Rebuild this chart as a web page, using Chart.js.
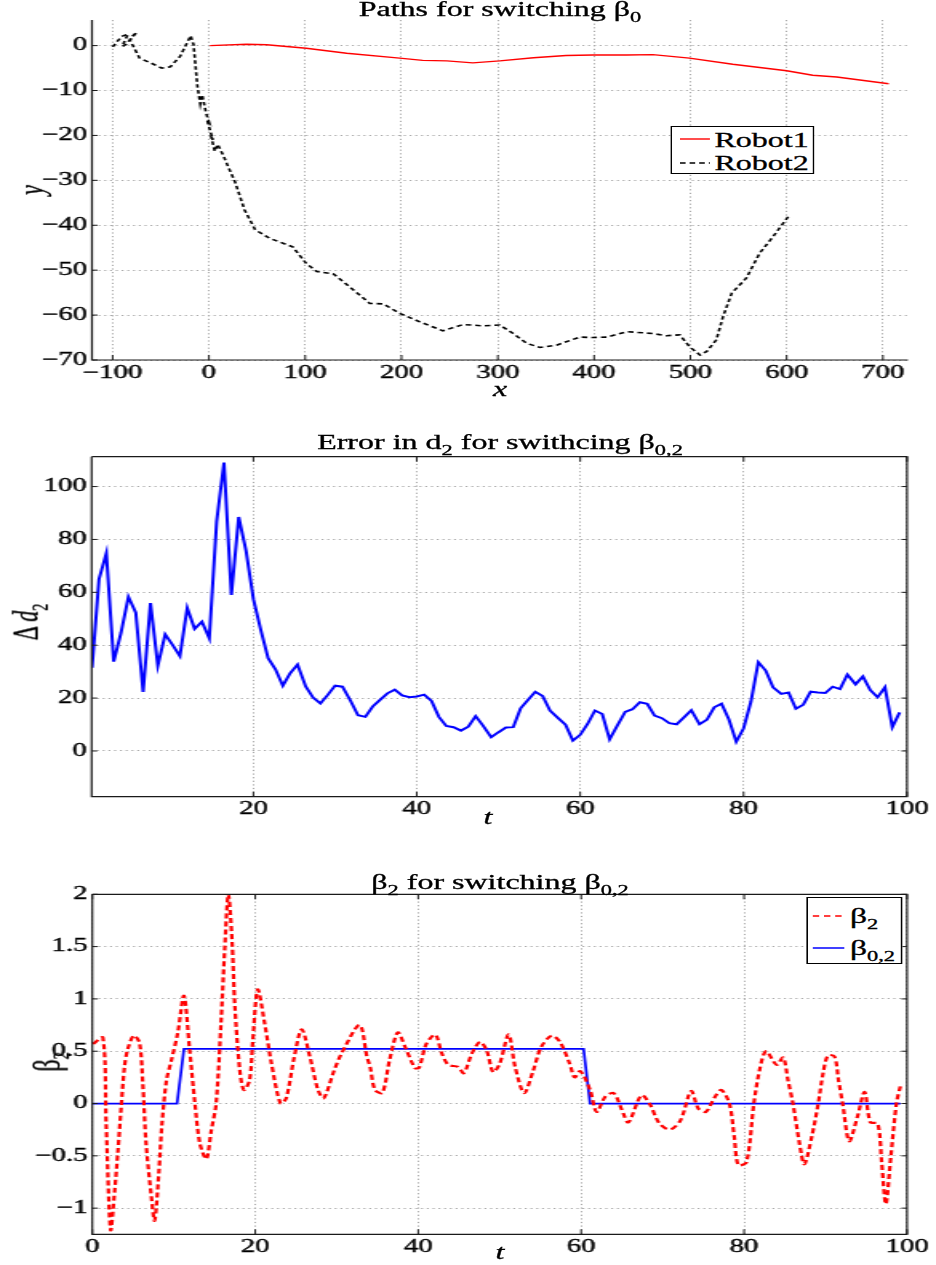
<!DOCTYPE html>
<html>
<head>
<meta charset="utf-8">
<script src="https://cdn.jsdelivr.net/npm/chart.js@4.4.1/dist/chart.umd.min.js"></script>
<style>
html, body { margin: 0; padding: 0; background: #fff; overflow: hidden; }
/* the source figure is stretched sideways, so draw at 585px wide and stretch by 1.6 */
#wrap { position: absolute; left: 0; top: 0; width: 585px; height: 1265px; transform: scaleX(1.6); transform-origin: 0 0;
  font-family: 'Liberation Serif', 'DejaVu Serif', serif; color: #000; -webkit-text-stroke: 0.3px #000; }
canvas { position: absolute; left: 0; }
.t { position: absolute; white-space: nowrap; font-size: 20px; line-height: 20px; transform: translateX(-50%); }
.s { font-size: 14px; position: relative; top: 6px; }
.yl { position: absolute; white-space: nowrap; font-size: 22px; line-height: 22px; transform: translate(-50%, -50%) rotate(-90deg); }
.lg { position: absolute; border: 1.2px solid #000; background: #fff; box-sizing: border-box; }
.lg svg { position: absolute; overflow: visible; }
.lg div { position: absolute; white-space: nowrap; font-size: 20px; line-height: 20px; }
</style>
</head>
<body>
<div id="wrap">
  <canvas id="paths" style="top:0"></canvas>
  <canvas id="error" style="top:420px"></canvas>
  <canvas id="beta" style="top:840px"></canvas>

  <div class="t" style="left:312.5px; top:-1px">Paths for switching β<span class="s">0</span></div>
  <div class="t" style="left:312.5px; top:379px"><i>x</i></div>
  <div class="yl" style="left:20px; top:190px"><i>y</i></div>

  <div class="t" style="left:312.5px; top:432px">Error in d<span class="s">2</span> for swithcing β<span class="s">0,2</span></div>
  <div class="t" style="left:305px; top:807px"><i>t</i></div>
  <div class="yl" style="left:18px; top:622px">Δ&thinsp;<i>d</i><span class="s">2</span></div>

  <div class="t" style="left:312.5px; top:872px">β<span class="s">2</span> for switching β<span class="s">0,2</span></div>
  <div class="t" style="left:312.5px; top:1242px"><i>t</i></div>
  <div class="yl" style="left:31px; top:1062px; font-size:24px">β<span class="s">2</span></div>

  <div class="lg" style="left:419.2px; top:126px; width:89.6px; height:48px">
    <svg style="left:4.6px; top:11.7px" width="19" height="1"><line x1="0" y1="0" x2="18.7" y2="0" stroke="#ff0000" stroke-width="1.4"/></svg>
    <div style="left:26.4px; top:3px">Robot1</div>
    <svg style="left:4.6px; top:35.7px" width="19" height="1"><line x1="0" y1="0" x2="18.7" y2="0" stroke="#000" stroke-width="1.4" stroke-dasharray="3.5,2.5"/></svg>
    <div style="left:26.4px; top:25.6px">Robot2</div>
  </div>

  <div class="lg" style="left:503.6px; top:897px; width:60.4px; height:67px">
    <svg style="left:3.7px; top:18px" width="20" height="1"><line x1="0" y1="0" x2="19.7" y2="0" stroke="#ff0000" stroke-width="1.4" stroke-dasharray="4,3"/></svg>
    <div style="left:26.6px; top:8px; font-size:21px">β<span class="s">2</span></div>
    <svg style="left:3.7px; top:50px" width="20" height="1"><line x1="0" y1="0" x2="19.7" y2="0" stroke="#0000ff" stroke-width="1.4"/></svg>
    <div style="left:26.6px; top:40px; font-size:21px">β<span class="s">0,2</span></div>
  </div>
</div>

<script>
// top panel: robot paths
const robot1X = [1, 39, 60, 101, 143, 198, 222, 247, 274, 302, 337, 371, 399, 434, 461, 499, 544, 600, 627, 652, 706];
const robot1Y = [0, 0.3, 0.2, -0.6, -1.7, -2.8, -3.3, -3.4, -3.85, -3.4, -2.7, -2.2, -2.1, -2.1, -2.0, -2.8, -4.15, -5.6, -6.6, -7.0, -8.5];
const robot2X = [-100, -91, -84, -88, -90, -85, -80, -75, -82, -72, -60, -49, -40, -30, -23, -19, -16, -12, -9, -7, -3, 0, -2, 2, 4, 2, 6, 9, 15, 20, 27, 37, 48, 63, 87, 101, 112, 129, 146, 167, 181, 198, 219, 243, 264, 285, 302, 316, 330, 344, 361, 385, 399, 413, 434, 461, 475, 489, 499, 510, 517, 527, 534, 543, 558, 572, 586, 603];
const robot2Y = [-0.3, 2.0, 2.6, 0.8, -0.2, 0.4, 2.0, 3.0, 1.2, -2.8, -3.9, -5.0, -4.7, -2.4, 0.5, 2.2, 0.2, -9, -13, -11, -15, -17, -16.5, -19.5, -21, -20, -23.5, -22, -24.5, -27, -30.3, -36.6, -41, -42.9, -44.8, -48.5, -50.3, -50.8, -53.7, -57.4, -57.5, -59.6, -61.5, -63.5, -62.1, -62.4, -62.2, -64.1, -66.3, -67.2, -66.7, -64.9, -65, -64.9, -63.7, -64.1, -64.6, -64.4, -67, -68.9, -68.1, -65.5, -60.3, -55.1, -51.8, -46.2, -42.5, -37.7];
const pathXTicks = [-100, 0, 100, 200, 300, 400, 500, 600, 700];
const pathYTicks = [-70, -60, -50, -40, -30, -20, -10, 0];

// middle panel: error in d2
const errT = [0.25, 1.1, 2.0, 2.9, 3.8, 4.7, 5.6, 6.5, 7.4, 8.3, 9.2, 10.1, 11.0, 11.9, 12.8, 13.7, 14.6, 15.5, 16.4, 17.3,
  18.2, 19.1, 20.0, 20.9, 21.8, 22.7, 23.6, 24.5, 25.4, 26.4, 27.3, 28.2, 29.1, 30.0, 30.9, 31.9, 32.8, 33.7, 34.6, 35.5,
  36.4, 37.3, 38.2, 39.1, 40.0, 40.9, 41.8, 42.7, 43.6, 44.5, 45.4, 46.3, 47.2, 48.1, 49.1, 50.0, 50.9, 51.8, 52.7, 53.6,
  54.5, 55.4, 56.3, 57.3, 58.2, 59.1, 60.0, 60.9, 61.8, 62.7, 63.6, 64.5, 65.5, 66.4, 67.3, 68.2, 69.1, 70.0, 70.9, 71.8,
  72.7, 73.6, 74.6, 75.5, 76.4, 77.3, 78.2, 79.1, 80.0, 80.9, 81.8, 82.7, 83.6, 84.6, 85.5, 86.4, 87.3, 88.2, 89.1, 90.0,
  90.9, 91.8, 92.7, 93.7, 94.6, 95.5, 96.4, 97.3, 98.2, 99.1];
const errD = [31.5, 65, 74.8, 33.8, 44.8, 58.3, 52.3, 22.3, 55.9, 32.3, 44.1, 40.1, 35.9, 54.1, 46.2, 48.9, 42.6, 86.8, 109.1, 59.0,
  88.5, 75.7, 57.4, 45.8, 35.1, 30.9, 24.7, 29.4, 32.7, 24.4, 20.2, 18.0, 21.2, 24.7, 24.3, 18.9, 13.5, 12.9, 16.8, 19.3,
  21.8, 23.2, 21.0, 20.3, 20.6, 21.3, 18.9, 12.9, 9.5, 9.0, 7.7, 9.2, 13.2, 9.6, 5.2, 7.1, 8.9, 9.0, 16.1, 19.3,
  22.4, 20.8, 15.3, 12.4, 9.9, 3.9, 6.1, 10.2, 15.3, 14.0, 4.4, 9.4, 14.8, 15.8, 18.4, 17.8, 13.4, 12.4, 10.5, 10.1,
  12.7, 15.4, 10.1, 11.8, 16.5, 17.9, 11.9, 3.5, 8.6, 18.7, 33.6, 30.4, 24.1, 21.6, 22.1, 16.0, 17.5, 22.4, 22.1, 21.9,
  24.3, 23.4, 28.9, 25.2, 28.2, 23.0, 20.3, 24.1, 9.0, 14.6];
const errXTicks = [20, 40, 60, 80, 100];
const errYTicks = [0, 20, 40, 60, 80, 100];

// bottom panel: beta2 and switching beta0,2
const betaT = [0.1, 1.3, 1.7, 2.25, 2.75, 3.15, 3.55, 3.95, 4.35, 5.1, 5.8, 6.2, 6.6, 7.25, 7.65, 8.15, 8.55, 9.1, 9.7, 10.5,
  11.25, 11.95, 12.6, 13.2, 14.0, 14.6, 15.2, 15.8, 16.25, 16.7, 17.15, 17.5, 18.1, 18.6, 19.3, 19.7, 20.3, 21.15, 22.0, 23.1,
  23.8, 24.8, 25.7, 26.7, 27.7, 28.4, 29.7, 30.6, 32.8, 33.7, 34.1, 34.7, 35.6, 36.5, 37.5, 38.4, 39.6, 40.1, 41.0, 42.1,
  42.9, 43.7, 44.9, 45.6, 46.6, 47.6, 48.4, 49.2, 50.0, 51.1, 51.9, 53.0, 54.1, 55.1, 56.4, 57.4, 58.6, 59.2, 59.9, 61.1,
  61.9, 63.0, 64.0, 65.0, 65.8, 67.4, 68.4, 69.6, 70.9, 72.2, 73.5, 74.4, 75.3, 76.4, 77.2, 78.2, 78.8, 79.3, 80.3, 81.2,
  81.9, 82.7, 84.0, 84.8, 85.4, 86.0, 86.8, 87.4, 88.3, 89.1, 89.7, 90.3, 91.1, 91.6, 92.1, 92.9, 93.9, 94.8, 95.5, 96.4,
  96.9, 97.4, 98.0, 98.7, 99.2];
const betaVals = [0.57, 0.63, -0.19, -1.21, -0.83, -0.45, -0.03, 0.35, 0.52, 0.65, 0.58, 0.19, -0.38, -0.89, -1.12, -0.68, -0.2, 0.22, 0.41, 0.68,
  1.03, 0.51, 0, -0.38, -0.53, -0.26, 0, 0.77, 1.47, 2.0, 1.56, 0.93, 0.32, 0.13, 0.22, 0.60, 1.09, 0.77, 0.38, 0.0,
  0.05, 0.45, 0.71, 0.45, 0.13, 0.05, 0.32, 0.48, 0.75, 0.45, 0.35, 0.13, 0.10, 0.42, 0.68, 0.54, 0.34, 0.34, 0.57, 0.66,
  0.48, 0.37, 0.35, 0.29, 0.48, 0.59, 0.51, 0.30, 0.38, 0.66, 0.35, 0.10, 0.31, 0.54, 0.65, 0.59, 0.38, 0.25, 0.31, 0.13,
  -0.08, 0.07, 0.10, -0.06, -0.18, 0.08, 0.0, -0.19, -0.25, -0.16, 0.12, -0.05, -0.08, 0.06, 0.13, 0.0, -0.32, -0.59, -0.56, 0.0,
  0.32, 0.50, 0.37, 0.44, 0.22, 0.0, -0.38, -0.58, -0.32, 0.0, 0.29, 0.46, 0.45, 0.22, 0.0, -0.36, -0.13, 0.11, -0.18, -0.19,
  -0.57, -0.96, -0.52, 0.0, 0.17];
const beta0T = [0, 10.4, 11.25, 60.3, 61.1, 99.2];
const beta0Vals = [0, 0, 0.523, 0.523, 0, 0];
const betaXTicks = [0, 20, 40, 60, 80, 100];
const betaYTicks = [-1, -0.5, 0, 0.5, 1, 1.5, 2];

const W = 585;

const pts = (xs, ys) => xs.map((x, i) => ({x: x, y: ys[i]}));
const fmt = (v) => (v < 0 ? '\u2212' + Math.abs(v) : String(v));

// axis lines, optional box, and matlab style inward ticks
const frame = {
  id: 'frame',
  afterDraw(chart, args, opts) {
    const {ctx, chartArea: a, scales} = chart;
    ctx.save();
    ctx.strokeStyle = '#1a1a1a';
    ctx.lineWidth = 1.2;
    ctx.beginPath();
    ctx.moveTo(a.left, a.top);
    ctx.lineTo(a.left, a.bottom);
    ctx.lineTo(a.right, a.bottom);
    if (opts.box) {
      ctx.lineTo(a.right, a.top);
      ctx.lineTo(a.left, a.top);
    }
    ctx.stroke();
    ctx.lineWidth = 1;
    ctx.beginPath();
    scales.x.ticks.forEach(t => {
      const px = scales.x.getPixelForValue(t.value);
      ctx.moveTo(px, a.bottom); ctx.lineTo(px, a.bottom - 5);
      if (opts.box) { ctx.moveTo(px, a.top); ctx.lineTo(px, a.top + 5); }
    });
    scales.y.ticks.forEach(t => {
      const py = scales.y.getPixelForValue(t.value);
      ctx.moveTo(a.left, py); ctx.lineTo(a.left + 3.5, py);
      if (opts.box) { ctx.moveTo(a.right, py); ctx.lineTo(a.right - 3.5, py); }
    });
    ctx.stroke();
    ctx.restore();
  }
};

function build(id, h, area, xr, yr, xt, yt, datasets, box) {
  const cv = document.getElementById(id);
  cv.width = W;
  cv.height = h;
  cv.style.width = W + 'px';
  cv.style.height = h + 'px';
  const font = {family: "'Liberation Serif', 'DejaVu Serif', serif", size: 18};
  const grid = {color: '#a8a8a8', lineWidth: 1, drawTicks: false};
  const border = {display: false, dash: [1.2, 2.4]};
  const tick = {font: font, color: '#000', textStrokeColor: '#000', textStrokeWidth: 0.4, autoSkip: false, callback: fmt};
  return new Chart(cv, {
    type: 'line',
    data: {datasets: datasets},
    options: {
      responsive: false,
      animation: false,
      devicePixelRatio: 1,
      layout: {padding: {left: 0, right: W - area.r, top: area.t, bottom: 0}},
      elements: {point: {radius: 0}},
      plugins: {legend: {display: false}, tooltip: {enabled: false}, frame: {box: box}},
      scales: {
        x: {
          type: 'linear', min: xr[0], max: xr[1], grid: grid, border: border,
          ticks: Object.assign({padding: 2, maxRotation: 0}, tick),
          afterBuildTicks: s => { s.ticks = xt.map(v => ({value: v})); },
          afterFit: s => { s.height = h - area.b; }
        },
        y: {
          type: 'linear', min: yr[0], max: yr[1], grid: grid, border: border,
          ticks: Object.assign({padding: 3}, tick),
          afterBuildTicks: s => { s.ticks = yt.map(v => ({value: v})); },
          afterFit: s => { s.width = area.l; }
        }
      }
    },
    plugins: [frame]
  });
}

build('paths', 420, {l: 57.5, r: 567.5, t: 20, b: 360}, [-121.5, 726], [-70, 5.7], pathXTicks, pathYTicks, [
  {data: pts(robot1X, robot1Y), borderColor: '#ff0000', borderWidth: 1.4, tension: 0, fill: false},
  {data: pts(robot2X, robot2Y), borderColor: '#000000', borderWidth: 1.6, borderDash: [3.5, 2.5], tension: 0, fill: false}
], false);

build('error', 420, {l: 57.3, r: 566.9, t: 36.7, b: 376.7}, [0.2, 100], [-17.3, 111.3], errXTicks, errYTicks, [
  {data: pts(errT, errD), borderColor: '#0000ff', borderWidth: 2, tension: 0, fill: false}
], true);

build('beta', 425, {l: 57.7, r: 566.9, t: 54.3, b: 394.3}, [0, 100], [-1.25, 2], betaXTicks, betaYTicks, [
  {data: pts(betaT, betaVals), borderColor: '#ff0000', borderWidth: 2.2, borderDash: [5, 3], tension: 0.3, fill: false},
  {data: pts(beta0T, beta0Vals), borderColor: '#0000ff', borderWidth: 1.7, tension: 0, fill: false}
], true);
</script>
</body>
</html>
